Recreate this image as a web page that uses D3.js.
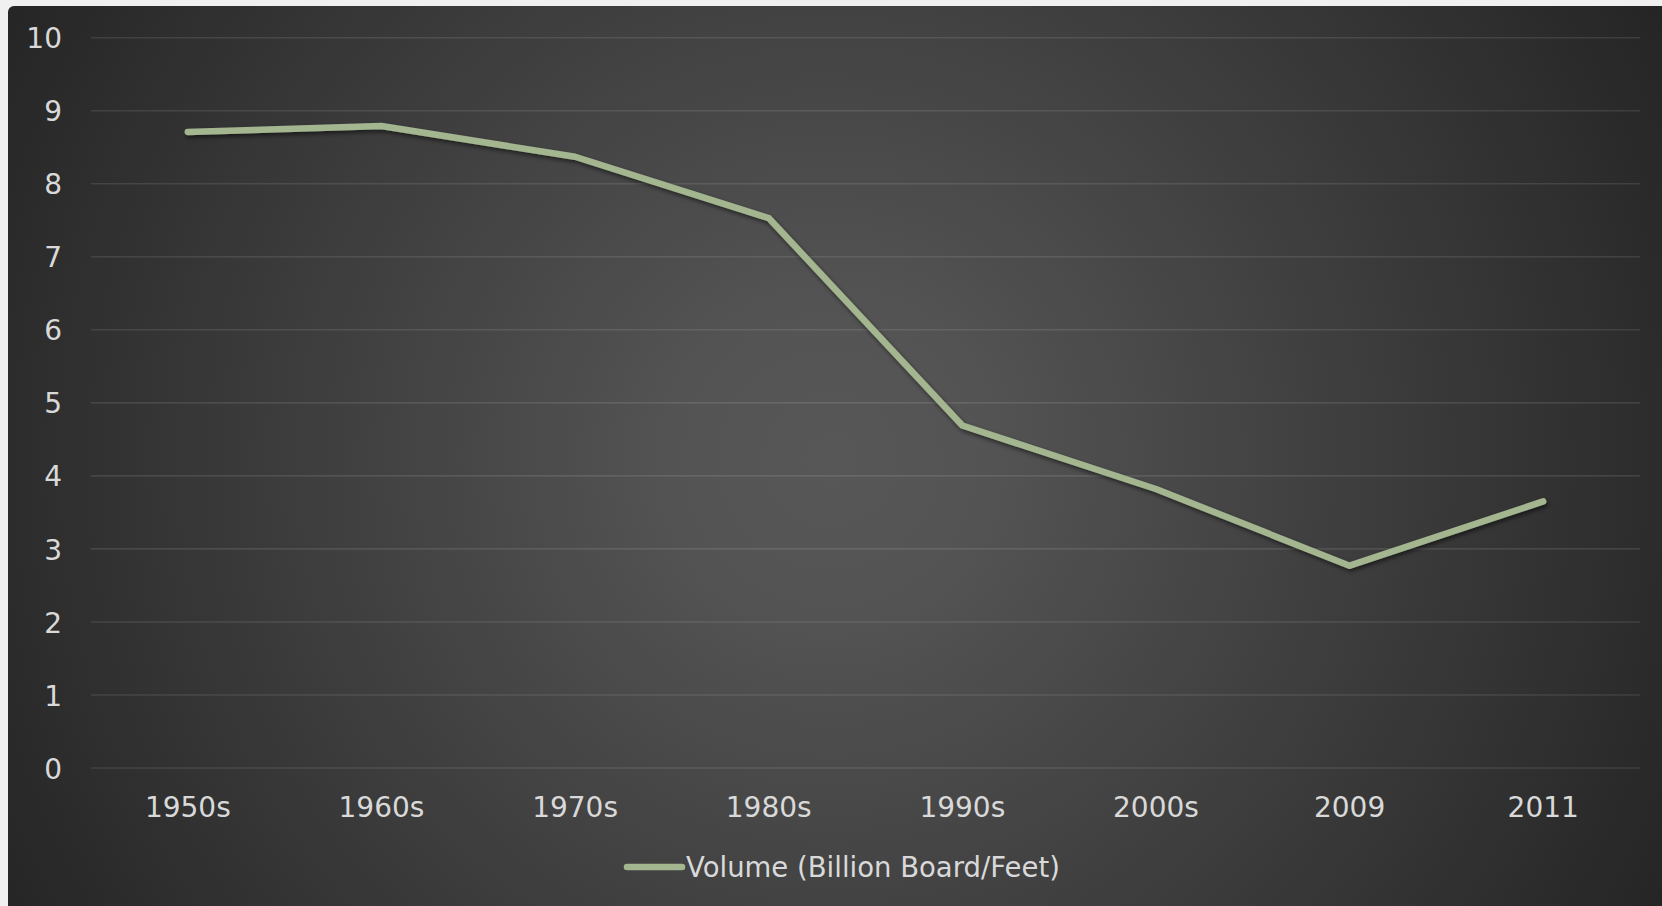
<!DOCTYPE html>
<html>
<head>
<meta charset="utf-8">
<script src="https://cdn.jsdelivr.net/npm/d3@7/dist/d3.min.js"></script>
<style>
  html, body { margin: 0; padding: 0; background: #f0f0f0; overflow: hidden; }
  svg { display: block; }
</style>
</head>
<body>
<svg id="chart" width="1662" height="906"></svg>
<script>
const categories = ["1950s", "1960s", "1970s", "1980s", "1990s", "2000s", "2009", "2011"];
const volume = [8.71, 8.79, 8.37, 7.53, 4.69, 3.82, 2.77, 3.65];
const yTicks = [0, 1, 2, 3, 4, 5, 6, 7, 8, 9, 10];
const seriesName = "Volume (Billion Board/Feet)";

(function () {
const W = 1662, H = 906;
const svg = d3.select("#chart");
const defs = svg.append("defs");

const grad = defs.append("radialGradient")
  .attr("id", "bg").attr("gradientUnits", "userSpaceOnUse")
  .attr("cx", 830).attr("cy", 460).attr("r", 960);
grad.append("stop").attr("offset", 0).attr("stop-color", "#575757");
grad.append("stop").attr("offset", 0.15).attr("stop-color", "#545454");
grad.append("stop").attr("offset", 1).attr("stop-color", "#242424");

const shadow = defs.append("filter").attr("id", "shadow")
  .attr("x", "-5%").attr("y", "-5%").attr("width", "110%").attr("height", "120%");
shadow.append("feDropShadow").attr("dx", 1.5).attr("dy", 2.5)
  .attr("stdDeviation", 2).attr("flood-color", "#000").attr("flood-opacity", 0.55);

svg.append("rect").attr("x", 8).attr("y", 6).attr("width", W + 20).attr("height", H + 20)
  .attr("rx", 6).attr("fill", "url(#bg)");

const pLeft = 91, pRight = 1640, pTop = 37.7, pBottom = 768;
const x = d3.scaleBand().domain(categories).range([pLeft, pRight]).padding(0);
const y = d3.scaleLinear().domain([0, 10]).range([pBottom, pTop]);
const font = "'DejaVu Sans', sans-serif";
const textColor = "#d9d9d9";

// gridlines
svg.append("g").selectAll("line").data(yTicks).join("line")
  .attr("x1", pLeft).attr("x2", pRight)
  .attr("y1", d => y(d)).attr("y2", d => y(d))
  .attr("stroke", "#ffffff").attr("stroke-opacity", 0.1).attr("stroke-width", 1.6);

// y axis
const yAxis = svg.append("g").attr("transform", `translate(${pLeft},0)`)
  .call(d3.axisLeft(y).tickValues(yTicks).tickFormat(d3.format("d")).tickSize(0).tickPadding(29));
yAxis.select(".domain").remove();
yAxis.selectAll("text").attr("font-family", font).attr("font-size", 28)
  .attr("fill", textColor).attr("dy", "0.36em");

// x axis
const xAxis = svg.append("g").attr("transform", `translate(0,${pBottom})`)
  .call(d3.axisBottom(x).tickSize(0).tickPadding(29));
xAxis.select(".domain").remove();
xAxis.selectAll("text").attr("font-family", font).attr("font-size", 28)
  .attr("fill", textColor).attr("dy", "0.71em");

// line
const line = d3.line()
  .x((d, i) => x(categories[i]) + x.bandwidth() / 2)
  .y(d => y(d));
svg.append("path").datum(volume)
  .attr("d", line)
  .attr("fill", "none")
  .attr("stroke", "#a3b68f")
  .attr("stroke-width", 6.5)
  .attr("stroke-linecap", "round")
  .attr("stroke-linejoin", "round")
  .attr("filter", "url(#shadow)");

// legend
const lg = svg.append("g");
lg.append("line").attr("x1", 627).attr("x2", 682).attr("y1", 867).attr("y2", 867)
  .attr("stroke", "#a3b68f").attr("stroke-width", 6.5).attr("stroke-linecap", "round");
lg.append("text").attr("x", 686).attr("y", 877)
  .attr("font-family", font).attr("font-size", 27.5).attr("fill", textColor)
  .text(seriesName);
})();
</script>
</body>
</html>
